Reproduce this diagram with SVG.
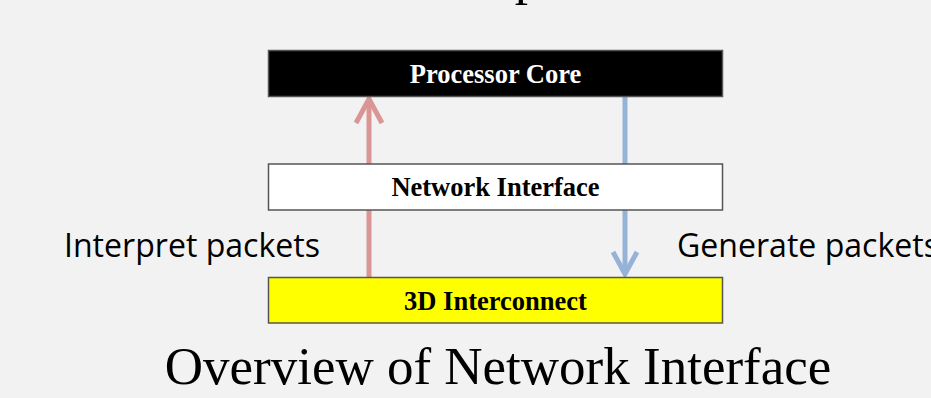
<svg xmlns="http://www.w3.org/2000/svg" width="931" height="398" viewBox="0 0 931 398">
  <style>
    .box { stroke: #555555; stroke-width: 1.5; }
    .lbl { font-family: "Liberation Serif", "Times New Roman", serif; font-weight: bold; font-size: 26.5px; text-anchor: middle; }
    .side { font-family: "Open Sans", "Liberation Sans", sans-serif; font-size: 32px; fill: #000; }
    .title { font-family: "Liberation Serif", "Times New Roman", serif; font-size: 53px; fill: #000; text-anchor: middle; }
    .up { stroke: #d99694; stroke-width: 5; fill: none; }
    .down { stroke: #95b3d7; stroke-width: 5; fill: none; }
  </style>
  <rect x="0" y="0" width="931" height="398" fill="#f2f2f2"/>
  <text class="title" x="528" y="-6">p</text>

  <g id="connectors">
    <line class="up" x1="369" y1="277" x2="369" y2="100"/>
    <polyline class="up" points="356,123 369,99 382,123"/>
    <line class="down" x1="625" y1="96" x2="625" y2="273"/>
    <polyline class="down" points="613,252 625,274 637,252"/>
  </g>

  <g id="processor-core">
    <rect class="box" x="268.5" y="50.5" width="454" height="46" fill="#000000"/>
    <text class="lbl" x="495.5" y="83" fill="#ffffff">Processor Core</text>
  </g>

  <g id="network-interface">
    <rect class="box" x="268.5" y="164" width="454" height="46" fill="#ffffff" stroke="#444"/>
    <text class="lbl" x="495.5" y="196" fill="#000000">Network Interface</text>
  </g>

  <g id="interconnect">
    <rect class="box" x="268.5" y="277.5" width="454" height="45.5" fill="#ffff00" stroke="#444"/>
    <text class="lbl" x="495.5" y="310" fill="#000000">3D Interconnect</text>
  </g>

  <text class="side" x="64" y="257" textLength="256" lengthAdjust="spacingAndGlyphs">Interpret packets</text>
  <text class="side" x="677" y="257" textLength="262" lengthAdjust="spacingAndGlyphs">Generate packets</text>

  <text class="title" x="498" y="384">Overview of Network Interface</text>
</svg>
